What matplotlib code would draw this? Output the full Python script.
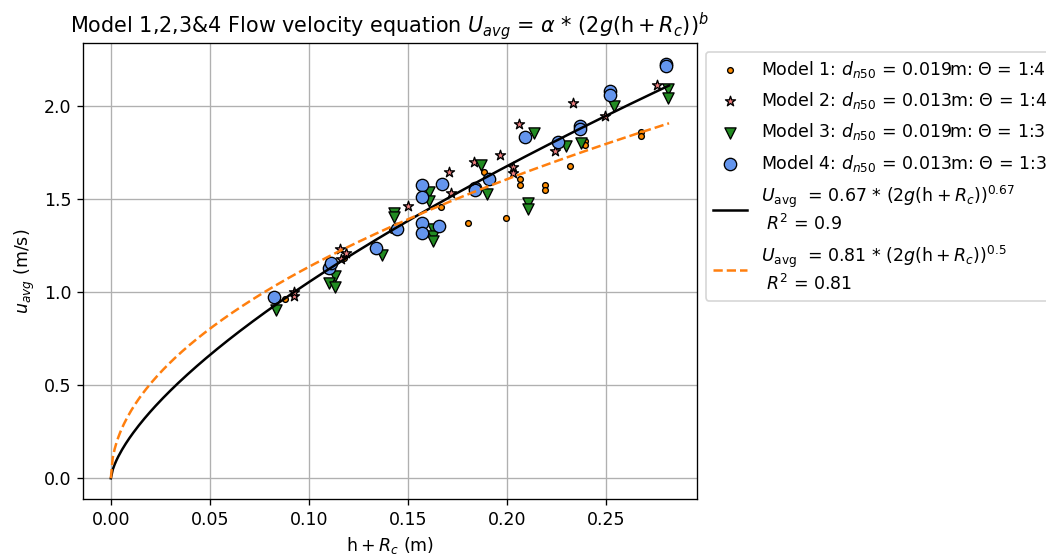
#################  IMPORT  ###################

import numpy as np
import matplotlib as mpl
mpl.use('Agg')
import matplotlib.pyplot as plt

mpl.rcParams.update({'font.size': 10.4})

###############  DATA  ###############

# Model 1: dn50 = 0.019 m, slope 1:4
m1_x = [0.088, 0.118, 0.142, 0.1667, 0.1805, 0.1886, 0.1997, 0.2069, 0.2069,
        0.2194, 0.2194, 0.2321, 0.2397, 0.2397, 0.268, 0.268]
m1_y = [0.96, 1.18, 1.335, 1.458, 1.368, 1.645, 1.395, 1.605, 1.573,
        1.573, 1.546, 1.677, 1.81, 1.79, 1.86, 1.835]

# Model 2: dn50 = 0.013 m, slope 1:4
m2_x = [0.0926, 0.0926, 0.116, 0.119, 0.1165, 0.150, 0.1717, 0.171, 0.1836,
        0.1966, 0.203, 0.203, 0.206, 0.2245, 0.2334, 0.2495, 0.2757]
m2_y = [0.98, 1.00, 1.23, 1.21, 1.175, 1.46, 1.53, 1.645, 1.70,
        1.734, 1.668, 1.64, 1.90, 1.757, 2.013, 1.943, 2.108]

# Model 3: dn50 = 0.019 m, slope 1:3
m3_x = [0.0835, 0.113, 0.110, 0.113, 0.137, 0.143, 0.143, 0.1607, 0.1607,
        0.163, 0.163, 0.163, 0.187, 0.190, 0.2105, 0.2105, 0.2137, 0.230,
        0.2377, 0.2543, 0.2817, 0.2817]
m3_y = [0.905, 1.085, 1.05, 1.027, 1.20, 1.426, 1.40, 1.534, 1.489,
        1.336, 1.30, 1.273, 1.68, 1.525, 1.48, 1.447, 1.853, 1.785,
        1.80, 1.997, 2.09, 2.04]

# Model 4: dn50 = 0.013 m, slope 1:3
m4_x = [0.0826, 0.110, 0.111, 0.134, 0.1445, 0.157, 0.157, 0.157, 0.157,
        0.166, 0.1675, 0.184, 0.184, 0.191, 0.2093, 0.226, 0.2368, 0.2368,
        0.252, 0.252, 0.2803, 0.2803]
m4_y = [0.971, 1.13, 1.155, 1.237, 1.336, 1.573, 1.507, 1.372, 1.315,
        1.354, 1.578, 1.56, 1.545, 1.605, 1.83, 1.806, 1.889, 1.875,
        2.08, 2.057, 2.225, 2.21]

# fitted relations U = alpha * (2 g (h + Rc))^b
g = 9.81
fit1_alpha, fit1_b = 0.67, 0.67
fit2_alpha, fit2_b = 0.81, 0.5
x_max = 0.282

##################  PLOT SETUP  ################

fig = plt.figure(figsize=(1046/120, 558/120), dpi=120)
ax = fig.add_axes([0.0793, 0.1057, 0.5870, 0.8173])

ax.scatter(m1_x, m1_y, s=12, marker='o', color='darkorange', edgecolors='k',
           linewidths=0.8, zorder=3,
           label=r'Model 1: $d_{n50}$ = 0.019m: $\Theta$ = 1:4')
ax.scatter(m2_x, m2_y, s=40, marker='*', color='lightcoral', edgecolors='k',
           linewidths=0.8, zorder=3,
           label=r'Model 2: $d_{n50}$ = 0.013m: $\Theta$ = 1:4')
ax.scatter(m3_x, m3_y, s=45, marker='v', color='forestgreen', edgecolors='k',
           linewidths=0.8, zorder=3,
           label=r'Model 3: $d_{n50}$ = 0.019m: $\Theta$ = 1:3')
ax.scatter(m4_x, m4_y, s=55, marker='o', color='cornflowerblue', edgecolors='k',
           linewidths=0.8, zorder=3,
           label=r'Model 4: $d_{n50}$ = 0.013m: $\Theta$ = 1:3')

xx = np.linspace(0, x_max, 300)
ax.plot(xx, fit1_alpha*(2*g*xx)**fit1_b, '-k', linewidth=1.5, zorder=4,
        label='$U_{\\mathrm{avg}}$  = 0.67 * $(2g(\\mathrm{h}+R_c))^{0.67}$\n $R^2$ = 0.9')
ax.plot(xx, fit2_alpha*(2*g*xx)**fit2_b, '--', color='#ff7f0e', linewidth=1.5,
        zorder=4,
        label='$U_{\\mathrm{avg}}$  = 0.81 * $(2g(\\mathrm{h}+R_c))^{0.5}$\n $R^2$ = 0.81')

ax.grid(True, color='#b0b0b0', linewidth=0.8)
ax.set_axisbelow(True)
ax.set_title(r'Model 1,2,3&4 Flow velocity equation $U_{avg}$ = $\alpha$ * $(2g(\mathrm{h}+R_c))^b$')
ax.set_xlabel(r'$\mathrm{h} + R_c$ (m)')
ax.set_ylabel(r'$u_{avg}$ (m/s)')
ax.set_xticks(np.arange(0, 0.26, 0.05))
ax.set_yticks(np.arange(0, 2.1, 0.5))

ax.legend(loc='upper left', bbox_to_anchor=(1.0, 1.0), labelspacing=0.6)

##################  OUTPUT  ##################

plt.savefig('out.png', dpi=120)
